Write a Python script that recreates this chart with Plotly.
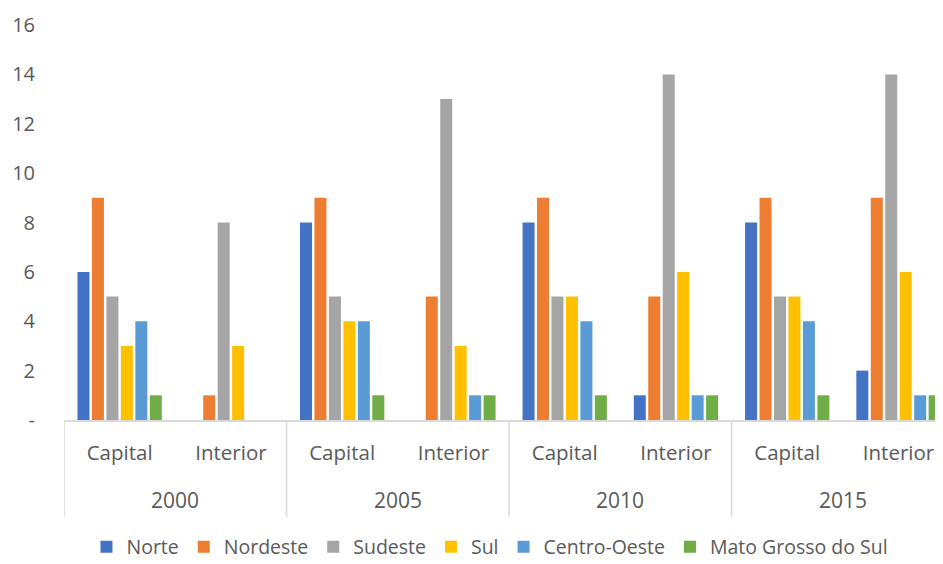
import plotly.graph_objects as go

years = ["2000", "2000", "2005", "2005", "2010", "2010", "2015", "2015"]
places = ["Capital", "Interior"] * 4
year_groups = ["2000", "2005", "2010", "2015"]

series_names = ["Norte", "Nordeste", "Sudeste", "Sul", "Centro-Oeste", "Mato Grosso do Sul"]
norte = [6, 0, 8, 0, 8, 1, 8, 2]
nordeste = [9, 1, 9, 5, 9, 5, 9, 9]
sudeste = [5, 8, 5, 13, 5, 14, 5, 14]
sul = [3, 3, 4, 3, 5, 6, 5, 6]
centro_oeste = [4, 0, 4, 1, 4, 1, 4, 1]
mato_grosso_do_sul = [1, 0, 1, 1, 1, 1, 1, 1]
values = [norte, nordeste, sudeste, sul, centro_oeste, mato_grosso_do_sul]
colors = ["#4472C4", "#ED7D31", "#A5A5A5", "#FFC000", "#5B9BD5", "#70AD47"]

y_ticks = [0, 2, 4, 6, 8, 10, 12, 14, 16]
y_labels = ["-", "2", "4", "6", "8", "10", "12", "14", "16"]

keys = [f"{y} {p}" for y, p in zip(years, places)]

fig = go.Figure()
for name, vals, col in zip(series_names, values, colors):
    fig.add_trace(go.Bar(x=keys, y=vals, name=name, marker_color=col,
                         marker_line_width=0))

grey = "#D9D9D9"
txt = "#595959"
font = "Open Sans"

# year labels centred under each pair of categories, dividers between groups
annotations = []
shapes = []
for i, yr in enumerate(year_groups):
    annotations.append(dict(x=2 * i + 0.5, xref="x", y=-0.2025, yref="paper",
                            text=yr, showarrow=False, yanchor="middle",
                            font=dict(family=font, size=21, color=txt)))
    shapes.append(dict(type="line", xref="x", yref="paper", x0=2 * i - 0.5, x1=2 * i - 0.5,
                       y0=0, y1=-0.2456, line=dict(color=grey, width=1.5)))

# the page body has an 8px margin, so the figure is sized to fit the window
fig.update_layout(
    width=935, height=556,
    margin=dict(l=56, r=0, t=17, b=144, autoexpand=False),
    paper_bgcolor="white", plot_bgcolor="white",
    barmode="group", bargap=0.22, bargroupgap=0.17,
    font=dict(family=font, size=20, color=txt),
    showlegend=True,
    legend=dict(orientation="h", x=0.4846, xanchor="center", y=-0.322, yanchor="middle",
                font=dict(size=19.5, color=txt), itemwidth=30, tracegroupgap=0),
    annotations=annotations, shapes=shapes,
    xaxis=dict(type="category", range=[-0.5, 7.4], tickmode="array", tickvals=keys,
               ticktext=places, showline=True, linecolor=grey, linewidth=1.5,
               ticks="", showgrid=False, automargin=False, ticklabelstandoff=14,
               tickfont=dict(size=20.5, color=txt)),
    yaxis=dict(range=[0, 16], tickvals=y_ticks, ticktext=y_labels, showgrid=False,
               zeroline=False, showline=False, ticks="", ticklabelstandoff=28,
               automargin=False, tickfont=dict(size=20, color=txt)),
)

fig.write_html("out.html")
